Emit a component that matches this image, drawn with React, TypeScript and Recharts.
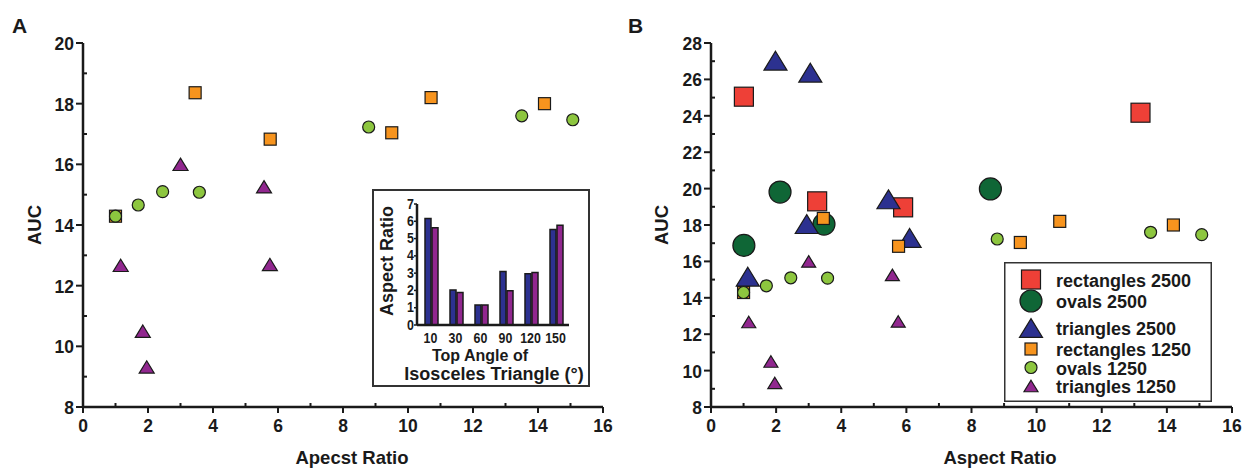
import React from 'react';
import { ScatterChart, Scatter, XAxis, YAxis, Legend, BarChart, Bar } from 'recharts';

const FONT = '"Liberation Sans", Arial, Helvetica, sans-serif';
const INK = '#1a1a1a';

// ---- data: 1250 series (panel A and small markers in panel B)
const rect1250X = [1.0, 3.45, 5.76, 9.5, 10.71, 14.2];
const rect1250Y = [14.29, 18.36, 16.83, 17.04, 18.2, 18.0];
const oval1250X = [1.0, 1.7, 2.45, 3.58, 8.79, 13.5, 15.07];
const oval1250Y = [14.29, 14.66, 15.1, 15.08, 17.23, 17.6, 17.47];
const tri1250X = [1.16, 1.84, 1.96, 3.0, 5.57, 5.75];
const tri1250Y = [12.67, 10.5, 9.32, 16.0, 15.26, 12.7];

// ---- data: 2500 series (panel B large markers)
const rect2500X = [1.01, 3.26, 5.9, 13.19];
const rect2500Y = [25.05, 19.3, 18.97, 24.17];
const oval2500X = [1.01, 2.12, 3.47, 8.58];
const oval2500Y = [16.88, 19.81, 18.05, 19.98];
const tri2500X = [1.13, 1.98, 2.94, 3.05, 5.45, 6.1];
const tri2500Y = [15.16, 27.03, 18.05, 26.37, 19.41, 17.29];

// ---- inset data
const angleCats = ['10', '30', '60', '90', '120', '150'];
const aspectBlue = [6.16, 2.03, 1.16, 3.1, 2.97, 5.52];
const aspectPurple = [5.62, 1.88, 1.16, 1.98, 3.04, 5.77];

// ---- ticks
const xTicks = [0, 1, 2, 3, 4, 5, 6, 7, 8, 9, 10, 11, 12, 13, 14, 15, 16];
const yTicksA = [8, 9, 10, 11, 12, 13, 14, 15, 16, 17, 18, 19, 20];
const yTicksB = [8, 9, 10, 11, 12, 13, 14, 15, 16, 17, 18, 19, 20, 21, 22, 23, 24, 25, 26, 27, 28];
const insetYTicks = [0, 1, 2, 3, 4, 5, 6, 7];

const seriesNames = ['rectangles 2500', 'ovals 2500', 'triangles 2500', 'rectangles 1250', 'ovals 1250', 'triangles 1250'];

const C = {
  red: '#ee4037',
  dkgreen: '#0f6636',
  blue: '#2c3190',
  orange: '#f7941e',
  ltgreen: '#8dc63f',
  purple: '#91278f',
};

const toPoints = (xs: number[], ys: number[]) => xs.map((x, i) => ({ x, y: ys[i] }));
const insetData = angleCats.map((a, i) => ({ angle: a, blue: aspectBlue[i], purple: aspectPurple[i] }));

type Kind = 'square' | 'circle' | 'triangle';

function Marker({ kind, cx, cy, size, fill }: { kind: Kind; cx: number; cy: number; size: number; fill: string }) {
  if (cx == null || cy == null || isNaN(cx) || isNaN(cy)) return null;
  const sw = 1.2;
  if (kind === 'square') {
    return <rect x={cx - size / 2} y={cy - size / 2} width={size} height={size} fill={fill} stroke={INK} strokeWidth={sw} />;
  }
  if (kind === 'circle') {
    return <circle cx={cx} cy={cy} r={size / 2} fill={fill} stroke={INK} strokeWidth={sw} />;
  }
  const w = size;
  const h = size * 0.82;
  const pts = `${cx},${cy - h / 2} ${cx + w / 2},${cy + h / 2} ${cx - w / 2},${cy + h / 2}`;
  return <polygon points={pts} fill={fill} stroke={INK} strokeWidth={sw} strokeLinejoin="miter" />;
}

const makeShape = (kind: Kind, size: number, fill: string) => (p: any) => (
  <Marker kind={kind} cx={p.cx} cy={p.cy} size={size} fill={fill} />
);

const txt = { fontFamily: FONT, fontWeight: 'bold' as const, fill: INK };

const XTick = (p: any) => {
  const { x, y, payload } = p;
  const v = payload.value;
  const major = v % 2 === 0;
  return (
    <g>
      <line x1={x} x2={x} y1={y} y2={major ? y + 6 : y - 4} stroke={INK} strokeWidth={2} />
      {major && (
        <text x={x} y={y + 19} textAnchor="middle" dominantBaseline="central" fontSize={17.5} {...txt}>
          {v}
        </text>
      )}
    </g>
  );
};

const YTick = (p: any) => {
  const { x, y, payload } = p;
  const v = payload.value;
  const major = v % 2 === 0;
  return (
    <g>
      <line x1={x} x2={major ? x - 7 : x + 4} y1={y} y2={y} stroke={INK} strokeWidth={2} />
      {major && (
        <text x={x - 9} y={y + 1} textAnchor="end" dominantBaseline="central" fontSize={17.5} {...txt}>
          {v}
        </text>
      )}
    </g>
  );
};

const InsetXTick = (p: any) => {
  const { x, y, payload } = p;
  return (
    <text transform={`translate(${x - 1},${y + 12}) scale(0.8,1)`} textAnchor="middle" dominantBaseline="central" fontSize={15.5} {...txt}>
      {payload.value}
    </text>
  );
};

const InsetYTick = (p: any) => {
  const { x, y, payload } = p;
  return (
    <g>
      <line x1={x} x2={x - 3} y1={y} y2={y} stroke={INK} strokeWidth={1.5} />
      <text transform={`translate(${x - 3},${y - 1}) scale(0.8,1)`} textAnchor="end" dominantBaseline="central" fontSize={15.5} {...txt}>
        {payload.value}
      </text>
    </g>
  );
};

const axisStyle = { stroke: INK, strokeWidth: 2.5 };

const legendLayout = [
  { kind: 'square' as Kind, size: 19, fill: C.red, y: 17.5 },
  { kind: 'circle' as Kind, size: 22, fill: C.dkgreen, y: 39 },
  { kind: 'triangle' as Kind, size: 23, fill: C.blue, y: 66 },
  { kind: 'square' as Kind, size: 12, fill: C.orange, y: 87 },
  { kind: 'circle' as Kind, size: 12, fill: C.ltgreen, y: 105.5 },
  { kind: 'triangle' as Kind, size: 14, fill: C.purple, y: 124 },
];

const LegendB = () => (
  <svg width={208} height={140} style={{ display: 'block' }}>
    <rect x={0.75} y={0.75} width={206.5} height={138.5} fill="#fff" stroke="#333" strokeWidth={1.5} />
    {legendLayout.map((it, i) => (
      <g key={seriesNames[i]}>
        <Marker kind={it.kind} cx={27} cy={it.y} size={it.size} fill={it.fill} />
        <text x={52} y={it.y + 1} dominantBaseline="central" fontSize={18} {...txt}>
          {seriesNames[i]}
        </text>
      </g>
    ))}
  </svg>
);

export default function App() {
  return (
    <div style={{ position: 'absolute', left: 0, top: 0, width: 1247, height: 468, background: '#fff', overflow: 'hidden' }}>
      {/* Panel A */}
      <div style={{ position: 'absolute', left: 0, top: 0 }}>
        <ScatterChart width={620} height={468} margin={{ top: 43, right: 17, bottom: 0, left: 0 }}>
          <XAxis
            type="number"
            dataKey="x"
            domain={[0, 16]}
            ticks={xTicks}
            interval={0}
            tick={XTick}
            tickLine={false}
            tickSize={0}
            tickMargin={0}
            axisLine={axisStyle}
            height={61}
            allowDataOverflow
            label={() => (
              <text x={352} y={457} textAnchor="middle" dominantBaseline="central" fontSize={18.5} {...txt}>
                Apecst Ratio
              </text>
            )}
          />
          <YAxis
            type="number"
            dataKey="y"
            domain={[8, 20]}
            ticks={yTicksA}
            interval={0}
            tick={YTick}
            tickLine={false}
            tickSize={0}
            tickMargin={0}
            axisLine={axisStyle}
            width={83}
            allowDataOverflow
            label={() => (
              <g>
                <text x={12} y={25} dominantBaseline="central" fontSize={21} {...txt}>A</text>
                <text x={34} y={225} transform="rotate(-90 34 225)" textAnchor="middle" dominantBaseline="central" fontSize={18.5} {...txt}>
                  AUC
                </text>
              </g>
            )}
          />
          <Scatter name={seriesNames[3]} data={toPoints(rect1250X, rect1250Y)} shape={makeShape('square', 12, C.orange)} isAnimationActive={false} />
          <Scatter name={seriesNames[4]} data={toPoints(oval1250X, oval1250Y)} shape={makeShape('circle', 12, C.ltgreen)} isAnimationActive={false} />
          <Scatter name={seriesNames[5]} data={toPoints(tri1250X, tri1250Y)} shape={makeShape('triangle', 15, C.purple)} isAnimationActive={false} />
        </ScatterChart>
      </div>

      {/* Inset */}
      <div style={{ position: 'absolute', left: 372, top: 189, width: 218, height: 198, border: '2px solid #333', boxSizing: 'border-box', background: '#fff' }}>
        <BarChart width={214} height={194} data={insetData} margin={{ top: 13, right: 19, bottom: 0, left: 0 }} barSize={6} barGap={1}>
          <XAxis
            dataKey="angle"
            type="category"
            height={60}
            interval={0}
            tick={InsetXTick}
            tickLine={false}
            tickSize={0}
            tickMargin={0}
            axisLine={axisStyle}
            padding={{ left: 2, right: 0 }}
            label={() => (
              <g>
                <text x={106} y={164} textAnchor="middle" dominantBaseline="central" fontSize={16} {...txt}>Top Angle of</text>
                <text x={120} y={183} textAnchor="middle" dominantBaseline="central" fontSize={18} {...txt}>Isosceles Triangle (°)</text>
              </g>
            )}
          />
          <YAxis
            type="number"
            domain={[0, 7]}
            ticks={insetYTicks}
            interval={0}
            width={43}
            tick={InsetYTick}
            tickLine={false}
            tickSize={0}
            tickMargin={0}
            axisLine={axisStyle}
            label={() => (
              <text x={13} y={70} transform="rotate(-90 13 70)" textAnchor="middle" dominantBaseline="central" fontSize={18} {...txt}>
                Aspect Ratio
              </text>
            )}
          />
          <Bar dataKey="blue" fill={C.blue} stroke={INK} strokeWidth={1.5} isAnimationActive={false} />
          <Bar dataKey="purple" fill={C.purple} stroke={INK} strokeWidth={1.5} isAnimationActive={false} />
        </BarChart>
      </div>

      {/* Panel B */}
      <div style={{ position: 'absolute', left: 620, top: 0 }}>
        <ScatterChart width={627} height={468} margin={{ top: 43, right: 15, bottom: 0, left: 0 }}>
          <XAxis
            type="number"
            dataKey="x"
            domain={[0, 16]}
            ticks={xTicks}
            interval={0}
            tick={XTick}
            tickLine={false}
            tickSize={0}
            tickMargin={0}
            axisLine={axisStyle}
            height={61}
            allowDataOverflow
            label={() => (
              <text x={380} y={457} textAnchor="middle" dominantBaseline="central" fontSize={18.5} {...txt}>
                Aspect Ratio
              </text>
            )}
          />
          <YAxis
            type="number"
            dataKey="y"
            domain={[8, 28]}
            ticks={yTicksB}
            interval={0}
            tick={YTick}
            tickLine={false}
            tickSize={0}
            tickMargin={0}
            axisLine={axisStyle}
            width={91}
            allowDataOverflow
            label={() => (
              <g>
                <text x={8} y={25} dominantBaseline="central" fontSize={21} {...txt}>B</text>
                <text x={41} y={225} transform="rotate(-90 41 225)" textAnchor="middle" dominantBaseline="central" fontSize={18.5} {...txt}>
                  AUC
                </text>
              </g>
            )}
          />
          <Legend
            layout="vertical"
            align="center"
            verticalAlign="middle"
            content={LegendB}
            wrapperStyle={{ left: 384, top: 262, width: 208, height: 140 }}
          />
          <Scatter name={seriesNames[0]} data={toPoints(rect2500X, rect2500Y)} shape={makeShape('square', 19, C.red)} isAnimationActive={false} />
          <Scatter name={seriesNames[1]} data={toPoints(oval2500X, oval2500Y)} shape={makeShape('circle', 22, C.dkgreen)} isAnimationActive={false} />
          <Scatter name={seriesNames[2]} data={toPoints(tri2500X, tri2500Y)} shape={makeShape('triangle', 23, C.blue)} isAnimationActive={false} />
          <Scatter name={seriesNames[3]} data={toPoints(rect1250X, rect1250Y)} shape={makeShape('square', 12, C.orange)} isAnimationActive={false} />
          <Scatter name={seriesNames[4]} data={toPoints(oval1250X, oval1250Y)} shape={makeShape('circle', 12, C.ltgreen)} isAnimationActive={false} />
          <Scatter name={seriesNames[5]} data={toPoints(tri1250X, tri1250Y)} shape={makeShape('triangle', 14, C.purple)} isAnimationActive={false} />
        </ScatterChart>
      </div>
    </div>
  );
}
